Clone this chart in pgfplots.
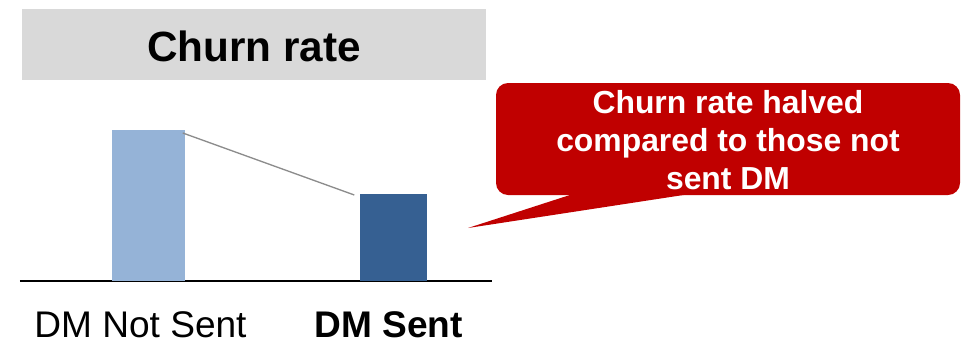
\documentclass[border=0pt]{standalone}
\usepackage{pgfplots}
\pgfplotsset{compat=1.18}
\usepackage{fontspec}
\setmainfont{Liberation Sans}
\definecolor{lightbar}{HTML}{95B3D7}
\definecolor{darkbar}{HTML}{366092}
\definecolor{callred}{HTML}{C00000}
\definecolor{titlegray}{HTML}{D9D9D9}
\begin{document}
\begin{tikzpicture}[x=0.75pt,y=-0.75pt]
\path[use as bounding box] (0,0) rectangle (961,347);
\fill[titlegray] (22,9) rectangle (486,80);
\node[font=\fontsize{31.7}{38}\selectfont\bfseries] at (254,46) {Churn rate};
\begin{axis}[at={(15pt,-210.75pt)}, anchor=south west, scale only axis,
  width=354pt, height=135.75pt, xmin=-0.5245, xmax=1.402, ymin=0, ymax=181,
  hide y axis, axis x line*=bottom, x axis line style={black, line width=1pt, -},
  xtick={0,1}, xticklabels={\hspace*{-12pt}DM Not Sent, \hspace*{-7.5pt}\textbf{DM Sent}}, major tick length=0pt,
  xticklabel style={anchor=base, yshift=-42pt, font=\fontsize{27.8}{33}\selectfont},
  clip=false]
\addplot[ybar, bar width=54.75pt, bar shift=0pt, fill=lightbar, draw=none] coordinates {(0,151)};
\addplot[ybar, bar width=50.25pt, bar shift=0pt, fill=darkbar, draw=none] coordinates {(1,87)};
\draw[gray!90, line width=1pt] (axis cs:0.14,148) -- (axis cs:0.84,86);
\end{axis}
\fill[callred, rounded corners=9pt] (496,83) rectangle (960,195);
\fill[callred] (573,194) -- (468,228) -- (690,194) -- cycle;
\node[white, font=\fontsize{23.9}{28.5}\selectfont\bfseries, align=center] at (728,140) {Churn rate halved\\compared to those not\\sent DM};
\end{tikzpicture}
\end{document}
